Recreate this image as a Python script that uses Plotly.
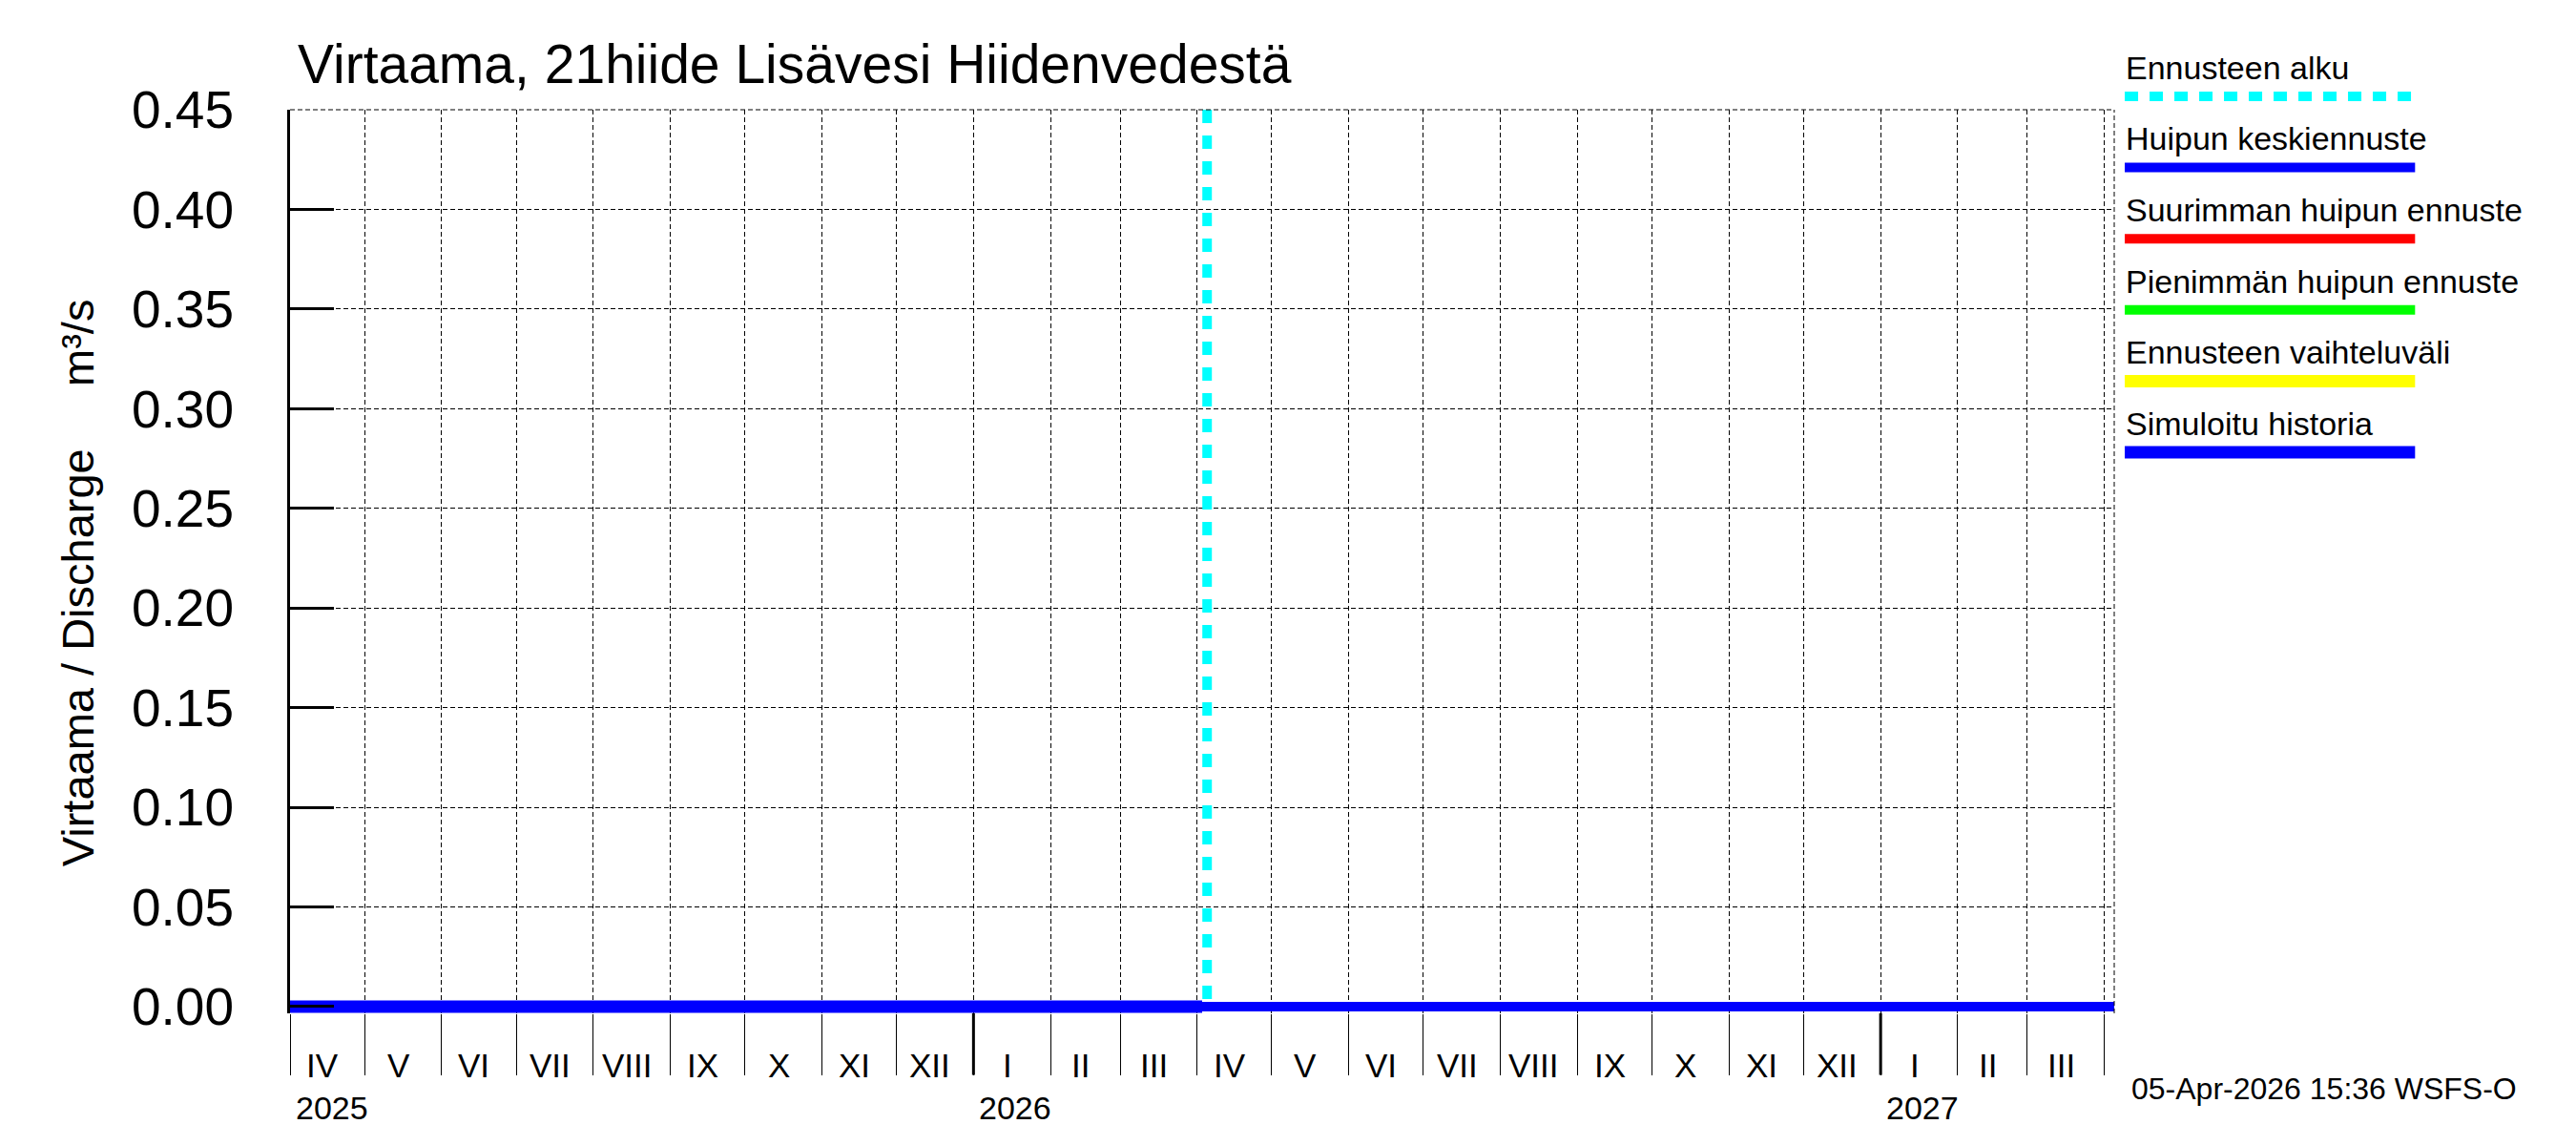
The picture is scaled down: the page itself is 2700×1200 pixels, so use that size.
import pandas as pd
import plotly.graph_objects as go

# --- data ---
hist_dates = ["2025-04-01", "2025-05-01", "2025-06-01", "2025-07-01", "2025-08-01",
              "2025-09-01", "2025-10-01", "2025-11-01", "2025-12-01", "2026-01-01",
              "2026-02-01", "2026-03-01", "2026-04-03"]
hist_values = [0.0, 0.0, 0.0, 0.0, 0.0, 0.0, 0.0, 0.0, 0.0, 0.0, 0.0, 0.0, 0.0]

fc_dates = ["2026-04-03", "2026-05-01", "2026-06-01", "2026-07-01", "2026-08-01",
            "2026-09-01", "2026-10-01", "2026-11-01", "2026-12-01", "2027-01-01",
            "2027-02-01", "2027-03-01", "2027-04-05"]
fc_mean = [0.0, 0.0, 0.0, 0.0, 0.0, 0.0, 0.0, 0.0, 0.0, 0.0, 0.0, 0.0, 0.0]
fc_max = [0.0, 0.0, 0.0, 0.0, 0.0, 0.0, 0.0, 0.0, 0.0, 0.0, 0.0, 0.0, 0.0]
fc_min = [0.0, 0.0, 0.0, 0.0, 0.0, 0.0, 0.0, 0.0, 0.0, 0.0, 0.0, 0.0, 0.0]

forecast_start = "2026-04-05"
x_start, x_end = "2025-04-01", "2027-04-05"
y_top = 0.45

month_starts = pd.date_range("2025-04-01", "2027-04-01", freq="MS")
roman = ["I", "II", "III", "IV", "V", "VI", "VII", "VIII", "IX", "X", "XI", "XII"]
year_starts = ["2025-04-01", "2026-01-01", "2027-01-01"]
year_labels = ["2025", "2026", "2027"]

title_text = "Virtaama, 21hiide Lisävesi Hiidenvedestä"
ytitle_text = "Virtaama / Discharge\u00a0\u00a0\u00a0\u00a0\u00a0m³/s"
stamp_text = "05-Apr-2026 15:36 WSFS-O"

legend_names = ["Ennusteen alku", "Huipun keskiennuste", "Suurimman huipun ennuste",
                "Pienimmän huipun ennuste", "Ennusteen vaihteluväli", "Simuloitu historia"]
legend_colors = ["#00ffff", "#0000ff", "#ff0000", "#00ff00", "#ffff00", "#0000ff"]

# --- layout geometry (pixels in the 2700x1200 page; the page body has an 8px margin) ---
OFF = 8
W, H = 2700 - 2 * OFF, 1200 - 2 * OFF
L, R, T = 304, 2208, 115
ZERO_PX = 1047
PX_PER_UNIT = 2072
B = 1054
y_bottom = -(B - ZERO_PX) / PX_PER_UNIT
FONT = "Liberation Sans, Arial, Helvetica, sans-serif"
GRID_DASH = "5px,3px"


def px_x(p):
    return (p - L) / (R - L)


def px_y(p):
    return (B - p) / (B - T)


fig = go.Figure()

# forecast start line
fig.add_trace(go.Scatter(x=[forecast_start, forecast_start], y=[y_top, 0], mode="lines",
                         line=dict(color="#00ffff", width=10, dash="14px,13px"),
                         hoverinfo="skip"))
# forecast range (yellow), max, min, mean
fig.add_trace(go.Scatter(x=fc_dates, y=fc_max, mode="lines",
                         line=dict(color="#ffff00", width=0), hoverinfo="skip"))
fig.add_trace(go.Scatter(x=fc_dates, y=fc_min, mode="lines", fill="tonexty",
                         fillcolor="#ffff00", line=dict(color="#ffff00", width=0),
                         hoverinfo="skip"))
fig.add_trace(go.Scatter(x=fc_dates, y=fc_max, mode="lines",
                         line=dict(color="#ff0000", width=10)))
fig.add_trace(go.Scatter(x=fc_dates, y=fc_min, mode="lines",
                         line=dict(color="#00ff00", width=10)))
fig.add_trace(go.Scatter(x=fc_dates, y=fc_mean, mode="lines",
                         line=dict(color="#0000ff", width=10)))
# simulated history
fig.add_trace(go.Scatter(x=hist_dates, y=hist_values, mode="lines",
                         line=dict(color="#0000ff", width=13)))

shapes = []
annotations = []

# thicker year separators below the axis
tick_len = 1118 - B
for d in year_starts[1:]:
    shapes.append(dict(type="line", xref="x", yref="paper", x0=d, x1=d,
                       y0=0, y1=-tick_len / (B - T), line=dict(color="black", width=3)))
# dashed frame on top and right
shapes.append(dict(type="line", xref="paper", yref="paper", x0=0, x1=1, y0=1, y1=1,
                   line=dict(color="black", width=1, dash=GRID_DASH)))
shapes.append(dict(type="line", xref="paper", yref="paper", x0=1, x1=1, y0=0, y1=1,
                   line=dict(color="black", width=1, dash=GRID_DASH)))

# month labels centred in each month
for a, b in zip(month_starts[:-1], month_starts[1:]):
    mid = a + (b - a) / 2
    annotations.append(dict(x=mid, y=0, xref="x", yref="paper", yshift=-(1108 - B),
                            xshift=-5, text=roman[a.month - 1], showarrow=False,
                            xanchor="center", yanchor="middle",
                            font=dict(size=35, color="black", family=FONT)))
# year labels
for d, lab in zip(year_starts, year_labels):
    annotations.append(dict(x=d, y=0, xref="x", yref="paper", yshift=-(1153 - B),
                            xshift=4, text=lab, showarrow=False, xanchor="left",
                            yanchor="middle", font=dict(size=34, color="black", family=FONT)))

# title, y title, time stamp
annotations.append(dict(x=px_x(310), y=px_y(67), xref="paper", yref="paper", text=title_text,
                        showarrow=False, xanchor="left", yanchor="middle",
                        font=dict(size=57, color="black", family=FONT)))
annotations.append(dict(x=px_x(82), y=px_y(607), xref="paper", yref="paper", text=ytitle_text,
                        showarrow=False, xanchor="center", yanchor="middle", textangle=-90,
                        font=dict(size=47, color="black", family=FONT)))
annotations.append(dict(x=px_x(2224), y=px_y(1132), xref="paper", yref="paper", text=stamp_text,
                        showarrow=False, xanchor="left", yanchor="middle",
                        font=dict(size=32, color="black", family=FONT)))

# custom legend: text above a line sample
for i, (name, col) in enumerate(zip(legend_names, legend_colors)):
    ty = 71 + i * 74
    ly = 101 + i * 74
    annotations.append(dict(x=px_x(2218), y=px_y(ty), xref="paper", yref="paper", text=name,
                            showarrow=False, xanchor="left", yanchor="middle",
                            font=dict(size=34, color="black", family=FONT)))
    lw = 13 if i >= 4 else 10
    dash = "14px,12px" if i == 0 else "solid"
    shapes.append(dict(type="line", xref="paper", yref="paper", x0=px_x(2219), x1=px_x(2522),
                       y0=px_y(ly), y1=px_y(ly), line=dict(color=col, width=lw, dash=dash)))

fig.update_layout(
    width=W, height=H,
    margin=dict(l=L - OFF, r=(2700 - OFF) - R - OFF, t=T - OFF, b=(1200 - OFF) - B - OFF, pad=0),
    paper_bgcolor="white", plot_bgcolor="white",
    showlegend=False,
    font=dict(family=FONT, color="black"),
    shapes=shapes,
    annotations=annotations,
    xaxis=dict(range=[x_start, x_end], tickmode="array", tickvals=list(month_starts),
               ticktext=[""] * len(month_starts), ticks="outside", ticklen=tick_len,
               tickwidth=1.3, tickcolor="black", showgrid=True, gridcolor="black",
               gridwidth=1, griddash=GRID_DASH, showline=False, zeroline=False),
    yaxis=dict(range=[y_bottom, y_top], tickmode="array",
               tickvals=[0, 0.05, 0.10, 0.15, 0.20, 0.25, 0.30, 0.35, 0.40, 0.45],
               tickformat=".2f", ticks="inside", ticklen=46, tickwidth=3, tickcolor="black",
               tickfont=dict(size=55, color="black", family=FONT), ticklabelstandoff=45,
               showgrid=True, gridcolor="black", gridwidth=1, griddash=GRID_DASH,
               showline=True, linecolor="black", linewidth=3, zeroline=False),
)

fig.write_html("out.html")
